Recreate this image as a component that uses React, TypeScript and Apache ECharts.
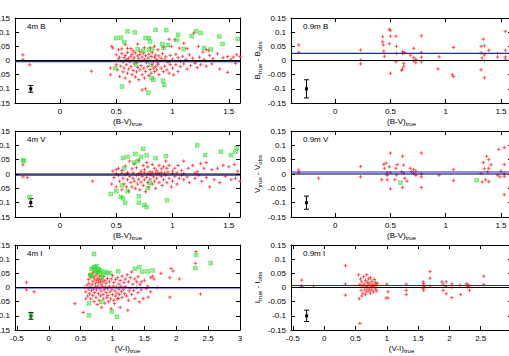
import React, { useEffect, useRef } from "react";
import * as echarts from "echarts";

// ---------- data ----------
const bvTicks = [0, 0.5, 1, 1.5];
const viTicks = [-0.5, 0, 0.5, 1, 1.5, 2, 2.5, 3];
const yTicks = [-0.15, -0.1, -0.05, 0, 0.05, 0.1, 0.15];

const panelTitles = ["4m B", "0.9m B", "4m V", "0.9m V", "4m I", "0.9m I"];
const blueOffsets = [-0.004, 0.025, -0.004, 0.007, -0.001, 0.007];
const errHalf = [0.012, 0.032, 0.014, 0.023, 0.012, 0.02];
const errX = [-0.26, -0.26, -0.26, -0.26, -0.28, -0.28];
const errY = [-0.1, -0.1, -0.1, -0.1, -0.1, -0.1];

const lbRed = [
  [-0.33, 0.02], [-0.33, 0.003], [-0.27, -0.015], [0.28, -0.038], [0.45, -0.05], [0.46, 0.05],
  [0.47, 0.044], [0.52, 0.038], [0.55, 0.041], [0.58, 0.056], [0.6, 0.043], [0.63, 0.042], [0.65, 0.034],
  [0.69, 0.058], [0.71, 0.032], [0.75, 0.045], [0.8, 0.045], [0.84, 0.05], [0.87, 0.038], [0.92, 0.046],
  [0.97, 0.075], [0.99, 0.05], [1.02, 0.073], [1.06, 0.044], [1.1, 0.061], [1.13, 0.042], [1.19, 0.097],
  [1.23, 0.05], [1.27, 0.03], [1.3, 0.038], [1.32, 0.036], [1.49, 0.014], [1.54, 0.012], [1.6, 0.014],
  [0.5, 0.02], [0.52, 0.005], [0.53, 0.012], [0.55, 0.025], [0.56, -0.005], [0.57, 0.01], [0.58, 0.018],
  [0.59, 0.003], [0.6, 0.028], [0.61, 0.008], [0.62, -0.004], [0.63, 0.015], [0.64, 0.022], [0.65, 0.002],
  [0.66, 0.01], [0.67, 0.027], [0.68, -0.006], [0.69, 0.016], [0.7, 0.006], [0.71, 0.021], [0.72, -0.002],
  [0.73, 0.012], [0.74, 0.026], [0.75, 0.003], [0.76, 0.017], [0.77, -0.008], [0.78, 0.009], [0.79, 0.022],
  [0.8, 0.001], [0.81, 0.014], [0.82, 0.028], [0.83, -0.004], [0.84, 0.011], [0.85, 0.019], [0.86, 0.004],
  [0.87, -0.009], [0.88, 0.016], [0.9, 0.008], [0.91, 0.024], [0.93, 0.002], [0.94, 0.013], [0.96, -0.006],
  [0.98, 0.018], [1.0, 0.005], [1.03, 0.022], [1.05, 0.01], [1.07, -0.003], [1.09, 0.015], [1.12, 0.004],
  [1.15, 0.02], [1.18, 0.008], [1.2, -0.005], [1.24, 0.012], [1.28, 0.003], [1.33, 0.018], [1.36, 0.007],
  [1.4, 0.024], [1.45, 0.01], [1.52, 0.004], [1.57, 0.02],
  [0.45, -0.027], [0.5, -0.015], [0.51, -0.033], [0.53, -0.056], [0.54, -0.02], [0.56, -0.04], [0.57, -0.027],
  [0.58, -0.062], [0.59, -0.015], [0.6, -0.045], [0.61, -0.03], [0.62, -0.075], [0.63, -0.021], [0.64, -0.05],
  [0.65, -0.035], [0.66, -0.012], [0.67, -0.058], [0.68, -0.04], [0.69, -0.025], [0.7, -0.068], [0.71, -0.033],
  [0.72, -0.018], [0.73, -0.05], [0.73, -0.104], [0.745, -0.027], [0.75, -0.062], [0.76, -0.039], [0.76, -0.1],
  [0.78, -0.022], [0.79, -0.053], [0.8, -0.032], [0.81, -0.045], [0.82, -0.014], [0.83, -0.027], [0.84, -0.039],
  [0.85, -0.021], [0.86, -0.033], [0.87, -0.015], [0.88, -0.05], [0.9, -0.027], [0.92, -0.039], [0.93, -0.02],
  [0.95, -0.033], [0.97, -0.045], [0.98, -0.014], [1.0, -0.027], [1.01, -0.051], [1.03, -0.015], [1.05, -0.039],
  [1.07, -0.021], [1.1, -0.012], [1.13, -0.03], [1.16, -0.018], [1.2, -0.01], [1.22, -0.025], [1.25, -0.015],
  [1.3, -0.02], [1.35, -0.012], [1.42, -0.03], [1.49, -0.042], [1.56, -0.01],
];
const lbGreen = [
  [0.5, 0.079], [0.54, 0.081], [0.57, 0.065], [0.6, 0.103], [0.665, 0.099], [0.69, 0.04], [0.74, 0.034],
  [0.76, 0.079], [0.79, 0.079], [0.79, 0.038], [0.8, 0.067], [0.82, 0.04], [0.85, 0.108], [0.91, 0.058],
  [0.92, 0.044], [0.945, 0.107], [0.96, 0.055], [1.04, 0.073], [1.05, 0.091], [1.1, 0.04], [1.17, 0.086],
  [1.21, 0.103], [1.25, 0.097], [1.28, 0.044], [1.34, 0.039], [1.415, 0.085], [1.445, 0.058], [1.58, 0.076],
  [0.49, -0.027], [0.68, -0.015], [0.805, -0.015], [0.55, -0.092], [0.785, -0.113], [0.815, -0.062],
  [0.83, -0.068], [0.915, -0.071], [0.925, -0.086],
];

const rbRed = [
  [-0.33, 0.055], [-0.33, 0.029], [0.23, 0.037], [0.23, 0.002], [0.23, -0.012],
  [0.43, 0.084], [0.43, 0.066], [0.435, 0.055], [0.44, 0.033], [0.445, 0.015],
  [0.49, 0.11], [0.5, 0.106], [0.5, 0.086], [0.49, 0.059], [0.5, -0.045],
  [0.55, 0.086], [0.555, 0.05], [0.555, 0.025], [0.55, -0.005],
  [0.61, 0.031], [0.62, 0.028], [0.61, 0.025], [0.63, 0.028], [0.62, -0.01], [0.62, -0.02], [0.61, -0.03], [0.6, -0.035],
  [0.68, 0.019], [0.71, 0.043], [0.71, 0.01], [0.73, 0.004], [0.71, -0.002], [0.73, -0.008],
  [0.78, 0.029], [0.78, 0.087], [0.78, 0.012], [0.78, -0.005],
  [0.94, 0.013], [0.93, -0.03], [1.07, 0.046], [1.06, -0.05], [1.07, -0.057],
  [1.32, 0.05], [1.34, 0.075], [1.35, 0.052], [1.32, 0.027], [1.33, 0.009], [1.35, 0.02], [1.35, 0.0],
  [1.32, -0.033], [1.35, -0.061], [1.39, 0.036],
  [1.47, 0.025], [1.47, 0.012], [1.54, 0.103], [1.54, 0.036], [1.54, 0.013], [1.54, 0.005],
];
const rbGreen: number[][] = [];

const lvRed = [
  [-0.33, 0.032], [-0.33, -0.01], [-0.29, -0.012], [0.29, -0.025],
  [0.47, 0.01], [0.5, 0.015], [0.52, 0.02], [0.55, 0.012], [0.58, 0.028], [0.6, 0.005], [0.62, 0.045],
  [0.64, 0.018], [0.66, 0.035], [0.68, 0.022], [0.7, 0.048], [0.72, 0.01], [0.74, 0.03], [0.75, 0.015],
  [0.77, 0.04], [0.78, 0.025], [0.8, 0.008], [0.82, 0.033], [0.84, 0.02], [0.86, 0.012], [0.88, 0.03],
  [0.9, 0.018], [0.92, 0.025], [0.94, 0.045], [0.95, 0.02], [0.97, 0.03], [1.0, 0.01], [1.02, 0.02],
  [1.05, 0.03], [1.08, 0.012], [1.1, 0.045], [1.14, 0.02], [1.18, 0.03], [1.22, 0.008], [1.25, 0.036],
  [1.28, 0.02], [1.3, 0.04], [1.35, 0.015], [1.4, 0.02], [1.45, 0.03], [1.5, 0.025], [1.55, 0.033], [1.58, 0.01],
  [0.46, -0.035], [0.48, -0.012], [0.5, -0.045], [0.52, -0.005], [0.53, -0.025], [0.55, -0.055], [0.56, -0.015],
  [0.57, -0.035], [0.58, -0.003], [0.59, -0.045], [0.6, -0.02], [0.61, -0.06], [0.62, -0.008], [0.63, -0.03],
  [0.64, -0.045], [0.65, -0.015], [0.66, -0.025], [0.67, -0.05], [0.68, -0.005], [0.69, -0.035], [0.7, -0.018],
  [0.71, -0.055], [0.72, -0.028], [0.73, -0.008], [0.74, -0.04], [0.75, -0.02], [0.76, -0.062], [0.77, -0.012],
  [0.78, -0.03], [0.79, -0.045], [0.8, -0.018], [0.81, -0.002], [0.82, -0.035], [0.83, -0.01], [0.84, -0.025],
  [0.85, -0.05], [0.86, -0.015], [0.87, 0.003], [0.88, -0.03], [0.9, -0.008], [0.91, -0.04], [0.92, -0.02],
  [0.94, -0.005], [0.95, -0.03], [0.97, -0.015], [0.99, -0.045], [1.0, -0.025], [1.02, -0.008], [1.04, -0.035],
  [1.06, -0.015], [1.08, -0.005], [1.1, -0.02], [1.13, -0.01], [1.15, -0.03], [1.2, -0.015], [1.23, -0.005],
  [1.26, -0.025], [1.3, -0.012], [1.33, -0.045], [1.37, -0.02], [1.42, -0.03], [1.47, -0.008], [1.52, -0.02],
  [1.56, -0.015], [1.6, -0.025],
  [0.6, 0.002], [0.65, 0.004], [0.7, 0.001], [0.72, 0.003], [0.75, 0.005], [0.78, 0.002], [0.8, -0.001],
  [0.82, 0.006], [0.85, 0.003], [0.88, 0.001], [0.9, 0.005], [0.93, 0.003], [0.96, 0.007], [1.0, 0.002],
  [1.04, 0.004], [1.1, 0.001], [1.2, 0.003], [0.55, 0.003], [0.5, 0.001],
];
const lvGreen = [
  [-0.33, 0.048], [-0.32, 0.045], [-0.27, -0.08], [0.45, -0.07], [0.5, -0.06], [0.54, -0.08], [0.55, -0.04],
  [0.56, -0.085], [0.58, -0.1], [0.56, 0.056], [0.57, 0.02], [0.6, 0.06], [0.6, -0.06], [0.66, 0.04],
  [0.67, 0.07], [0.69, 0.045], [0.7, -0.1], [0.7, -0.078], [0.72, 0.06], [0.74, 0.088], [0.75, -0.108],
  [0.77, 0.065], [0.77, -0.115], [0.78, -0.05], [0.8, -0.03], [0.85, 0.055], [0.94, 0.062],
  [0.95, -0.092], [1.22, 0.1], [1.29, 0.066], [1.43, 0.078], [1.52, 0.066], [1.56, 0.078], [1.57, 0.09],
];

const rvRed = [
  [-0.33, 0.014], [-0.33, 0.005], [-0.15, -0.015], [0.23, 0.026], [0.23, -0.01],
  [0.42, -0.02], [0.44, 0.034], [0.445, 0.02], [0.46, 0.038], [0.47, -0.005], [0.47, -0.02], [0.47, 0.003],
  [0.5, 0.073], [0.5, -0.052], [0.49, 0.025], [0.5, 0.005],
  [0.55, 0.02], [0.555, -0.003], [0.54, -0.02], [0.56, 0.033],
  [0.61, 0.062], [0.62, 0.031], [0.6, 0.008], [0.62, 0.003], [0.63, -0.015], [0.61, -0.047], [0.65, -0.025],
  [0.68, 0.02], [0.69, 0.008], [0.71, 0.015], [0.73, 0.01], [0.71, 0.002], [0.73, -0.005],
  [0.78, 0.073], [0.78, 0.0], [0.78, -0.01], [0.78, -0.047], [0.94, -0.004],
  [1.07, 0.016], [1.07, -0.023],
  [1.32, 0.002], [1.33, -0.028], [1.34, 0.04], [1.35, 0.018], [1.36, -0.02], [1.37, 0.062], [1.39, 0.05],
  [1.39, -0.027], [1.41, 0.032], [1.39, 0.02], [1.38, 0.008],
  [1.47, -0.004], [1.48, 0.086], [1.49, -0.01], [1.53, 0.092], [1.53, 0.033], [1.53, 0.0], [1.53, -0.008],
  [1.53, -0.072], [1.5, 0.01],
];
const rvGreen = [[0.59, -0.03], [1.28, -0.022]];

const liRed = [
  [-0.35, 0.018], [-0.35, -0.008], [-0.23, -0.015], [0.41, -0.057], [0.54, -0.088], [0.58, -0.04],
  [0.62, 0.028], [0.64, 0.045], [0.66, 0.035], [0.68, 0.05], [0.69, 0.022], [0.7, 0.038], [0.71, 0.055],
  [0.72, 0.03], [0.73, 0.015], [0.74, 0.042], [0.75, 0.025], [0.76, 0.05], [0.77, 0.033], [0.78, 0.018],
  [0.79, 0.028], [0.8, 0.04], [0.81, 0.022], [0.82, 0.012], [0.83, 0.03], [0.85, 0.02], [0.86, 0.038],
  [0.88, 0.025], [0.9, 0.015], [0.92, 0.032], [0.95, 0.02], [0.98, 0.03], [1.0, 0.042], [1.02, 0.018],
  [1.05, 0.028], [1.08, 0.035], [1.1, 0.012], [1.12, 0.025], [1.15, 0.04], [1.18, 0.018], [1.2, 0.03],
  [1.23, 0.045], [1.25, 0.02], [1.28, 0.035], [1.3, 0.055], [1.32, 0.012], [1.35, 0.03], [1.38, 0.02],
  [1.4, 0.038], [1.43, 0.01], [1.45, 0.02], [1.5, 0.025], [1.55, 0.005], [1.6, 0.035], [1.65, 0.03],
  [1.7, 0.0], [1.76, 0.05], [1.9, 0.035], [1.92, 0.067], [1.95, 0.058], [2.05, 0.03], [2.3, 0.085],
  [2.31, 0.127], [2.38, -0.023], [1.9, -0.034], [1.63, 0.04],
  [0.56, 0.0], [0.58, -0.015], [0.6, 0.008], [0.61, -0.03], [0.62, -0.005], [0.63, 0.015], [0.64, -0.022],
  [0.65, 0.002], [0.66, -0.04], [0.67, -0.01], [0.68, 0.01], [0.69, -0.028], [0.7, -0.005], [0.71, -0.05],
  [0.72, -0.018], [0.73, 0.003], [0.74, -0.035], [0.75, -0.008], [0.76, -0.06], [0.77, 0.006], [0.78, -0.022],
  [0.79, -0.045], [0.8, -0.002], [0.81, -0.03], [0.82, -0.012], [0.83, -0.07], [0.84, 0.004], [0.85, -0.025],
  [0.86, -0.04], [0.87, -0.008], [0.88, -0.055], [0.89, 0.002], [0.9, -0.018], [0.91, -0.035], [0.92, -0.005],
  [0.93, -0.028], [0.94, -0.05], [0.95, 0.004], [0.96, -0.015], [0.97, -0.04], [0.98, -0.075], [0.99, -0.008],
  [1.0, -0.025], [1.01, 0.005], [1.02, -0.045], [1.03, -0.057], [1.04, -0.012], [1.05, -0.03], [1.06, 0.002],
  [1.07, -0.02], [1.08, -0.04], [1.09, -0.039], [1.1, -0.006], [1.11, -0.025], [1.12, -0.07], [1.13, 0.004],
  [1.14, -0.015], [1.15, -0.035], [1.17, -0.008], [1.19, -0.022], [1.2, 0.003], [1.22, -0.03], [1.24, -0.08],
  [1.25, -0.045], [1.26, -0.012], [1.28, -0.002], [1.3, -0.025], [1.33, -0.01], [1.35, -0.039], [1.38, 0.0],
  [1.4, -0.018], [1.42, -0.051], [1.45, -0.008], [1.48, -0.039], [1.53, -0.004], [1.56, -0.034], [1.6, -0.015],
];
const liGreen = [
  [-0.28, -0.097], [0.63, -0.056], [0.63, -0.098], [0.65, 0.045], [0.67, 0.065], [0.68, 0.04], [0.7, 0.07],
  [0.71, 0.118], [0.72, 0.072], [0.73, 0.06], [0.75, 0.075], [0.76, 0.055], [0.77, 0.065], [0.79, 0.062],
  [0.8, 0.051], [0.82, 0.059], [0.82, -0.051], [0.83, 0.035], [0.85, 0.045], [0.88, 0.055], [0.92, 0.052],
  [0.96, 0.051], [0.99, -0.085], [1.07, -0.103], [1.09, 0.057], [1.35, 0.066], [1.42, 0.072], [1.47, 0.056],
  [1.55, 0.057], [1.63, 0.06], [2.3, 0.068], [2.31, 0.115], [2.54, 0.086],
];

const riRed = [
  [-0.36, 0.026], [-0.36, 0.006], [-0.36, 0.003], [-0.17, 0.006], [0.34, 0.077], [0.34, 0.012],
  [0.34, -0.027], [0.57, -0.127],
  [0.55, 0.045], [0.56, -0.04], [0.57, 0.01], [0.58, 0.03], [0.59, -0.01], [0.6, -0.03], [0.6, 0.02],
  [0.61, 0.005], [0.62, -0.02], [0.63, 0.038], [0.64, 0.012], [0.65, -0.008], [0.66, 0.025], [0.66, -0.025],
  [0.67, 0.003], [0.68, 0.045], [0.68, -0.015], [0.69, 0.018], [0.7, 0.008], [0.7, -0.005], [0.71, 0.03],
  [0.72, -0.012], [0.72, 0.015], [0.73, 0.0], [0.74, 0.035], [0.74, -0.02], [0.75, 0.008], [0.76, 0.022],
  [0.76, -0.008], [0.77, 0.003], [0.78, 0.012], [0.79, -0.015], [0.8, 0.028], [0.81, 0.005], [0.82, 0.018],
  [0.82, -0.005], [0.83, 0.01], [0.84, -0.012], [0.85, 0.015],
  [1.0, 0.012], [0.99, -0.037], [1.02, -0.037], [1.02, -0.015], [1.31, 0.012], [1.31, -0.01], [1.31, -0.025],
  [1.58, 0.02], [1.58, 0.008], [1.58, -0.003], [1.59, 0.014], [1.59, -0.01], [1.6, 0.003],
  [1.69, 0.056], [1.69, 0.033], [1.69, 0.005], [1.88, 0.02], [1.9, 0.012], [1.9, -0.01], [1.95, 0.02],
  [1.95, -0.022], [1.94, 0.003], [2.04, 0.013], [2.04, -0.036], [2.04, 0.0], [2.17, 0.008], [2.18, -0.025],
  [2.27, 0.013], [2.29, 0.002], [2.3, 0.01], [2.32, -0.01], [2.31, 0.005], [2.55, 0.04], [2.55, 0.01],
];
const riGreen: number[][] = [];

const redSets = [lbRed, rbRed, lvRed, rvRed, liRed, riRed];
const greenSets = [lbGreen, rbGreen, lvGreen, rvGreen, liGreen, riGreen];

// ---------- layout / style ----------
const FONT = "'Liberation Sans', Arial, Helvetica, sans-serif";
const grids = [
  { left: 15, top: 18, width: 225, height: 85 },
  { left: 291, top: 18, width: 221, height: 85 },
  { left: 15, top: 131, width: 225, height: 86 },
  { left: 291, top: 131, width: 221, height: 86 },
  { left: 15, top: 245, width: 225, height: 85 },
  { left: 291, top: 245, width: 221, height: 85 },
];
const PLUS = "path://M5,0 L5,10 M0,5 L10,5";
const BOXX = "path://M0,0 L10,0 L10,10 L0,10 Z M0,0 L10,10 M10,0 L0,10";
const richSub = {
  s: { fontSize: 6, fontFamily: FONT, color: "#000", verticalAlign: "bottom", lineHeight: 7 },
};

export default function App() {
  const ref = useRef<HTMLDivElement>(null);
  useEffect(() => {
    if (!ref.current) return;
    const chart = echarts.init(ref.current, undefined, { renderer: "svg" });
    const xAxis: any[] = [];
    const yAxis: any[] = [];
    const series: any[] = [];
    const graphic: any[] = [];
    for (let i = 0; i < 6; i++) {
      const isI = i >= 4;
      const isRight = i % 2 === 1;
      const xmin = isI ? -0.53 : -0.4;
      const xmax = isI ? 3 : 1.6;
      const ticks = isI ? viTicks : bvTicks;
      const band = ["B", "V", "I"][Math.floor(i / 2)];
      const tickCommon = { show: true, inside: true, length: 4, lineStyle: { color: "#000", width: 1 } };
      const lineCommon = { show: true, onZero: false, lineStyle: { color: "#000", width: 1 } };
      xAxis.push({
        gridIndex: i, type: "value", min: xmin, max: xmax, position: "bottom",
        axisLine: lineCommon,
        axisTick: { ...tickCommon, customValues: ticks },
        axisLabel: { show: true, customValues: ticks, fontSize: 8, color: "#000", fontFamily: FONT, margin: 4 },
        splitLine: { show: false },
        name: isI ? "(V-I){s|true}" : "(B-V){s|true}",
        nameLocation: "middle", nameGap: 13,
        nameTextStyle: { fontSize: 8, color: "#000", fontFamily: FONT, lineHeight: 11, rich: richSub },
      });
      xAxis.push({
        gridIndex: i, type: "value", min: xmin, max: xmax, position: "top",
        axisLine: lineCommon,
        axisTick: { ...tickCommon, customValues: ticks },
        axisLabel: { show: false },
        splitLine: { show: false },
      });
      yAxis.push({
        gridIndex: i, type: "value", min: -0.15, max: 0.15, position: "left",
        axisLine: lineCommon,
        axisTick: { ...tickCommon, customValues: yTicks },
        axisLabel: { show: true, customValues: yTicks, fontSize: 8, color: "#000", fontFamily: FONT, margin: 5 },
        splitLine: { show: false },
        name: isRight ? `${band}{s|true} - ${band}{s|obs}` : "",
        nameLocation: "middle", nameGap: 28, nameRotate: 90,
        nameTextStyle: { fontSize: 8, color: "#000", fontFamily: FONT, lineHeight: 11, rich: richSub },
      });
      yAxis.push({
        gridIndex: i, type: "value", min: -0.15, max: 0.15, position: "right",
        axisLine: lineCommon,
        axisTick: { ...tickCommon, customValues: yTicks },
        axisLabel: { show: false },
        splitLine: { show: false },
      });
      const xi = 2 * i;
      const yi = 2 * i;
      series.push({
        type: "scatter", xAxisIndex: xi, yAxisIndex: yi, data: redSets[i], symbol: PLUS, symbolSize: 3.5,
        itemStyle: { color: "transparent", borderColor: "#ff3030", borderWidth: 1 }, silent: true,
      });
      series.push({
        type: "scatter", xAxisIndex: xi, yAxisIndex: yi, data: greenSets[i], symbol: BOXX, symbolSize: 3.5,
        itemStyle: { color: "transparent", borderColor: "#22dd22", borderWidth: 0.8 }, silent: true,
      });
      series.push({
        type: "line", xAxisIndex: xi, yAxisIndex: yi, showSymbol: false, silent: true,
        data: [[xmin, blueOffsets[i]], [xmax, blueOffsets[i]]],
        lineStyle: { color: "#1a1aff", width: 1.2 },
      });
      series.push({
        type: "line", xAxisIndex: xi, yAxisIndex: yi, showSymbol: false, silent: true,
        data: [[xmin, 0], [xmax, 0]],
        lineStyle: { color: "#000", width: 1.2 },
      });
      series.push({
        type: "custom", xAxisIndex: xi, yAxisIndex: yi, coordinateSystem: "cartesian2d", silent: true,
        data: [[errX[i], errY[i], errHalf[i]]],
        encode: { x: 0, y: 1 },
        renderItem: (params: any, api: any) => {
          const x = api.value(0);
          const y = api.value(1);
          const e = api.value(2);
          const c = api.coord([x, y]);
          const t = api.coord([x, y + e]);
          const b = api.coord([x, y - e]);
          const st = { stroke: "#000", lineWidth: 1 };
          return {
            type: "group",
            children: [
              { type: "line", shape: { x1: c[0], y1: t[1], x2: c[0], y2: b[1] }, style: st },
              { type: "line", shape: { x1: c[0] - 2.5, y1: t[1], x2: c[0] + 2.5, y2: t[1] }, style: st },
              { type: "line", shape: { x1: c[0] - 2.5, y1: b[1], x2: c[0] + 2.5, y2: b[1] }, style: st },
              { type: "rect", shape: { x: c[0] - 1.5, y: c[1] - 1.5, width: 3, height: 3 }, style: { fill: "#000" } },
            ],
          };
        },
      });
      graphic.push({
        type: "text", left: grids[i].left + 12, top: grids[i].top + 4,
        style: { text: panelTitles[i], fontSize: 8, fontFamily: FONT, fill: "#000" },
      });
    }
    chart.setOption({
      animation: false,
      backgroundColor: "#fff",
      grid: grids.map((g) => ({ ...g, containLabel: false, outerBoundsMode: "none" })),
      xAxis,
      yAxis,
      series,
      graphic,
    });
    return () => chart.dispose();
  }, []);
  return (
    <div
      ref={ref}
      style={{ position: "absolute", left: 0, top: 0, width: 509, height: 356, overflow: "hidden" }}
    />
  );
}
